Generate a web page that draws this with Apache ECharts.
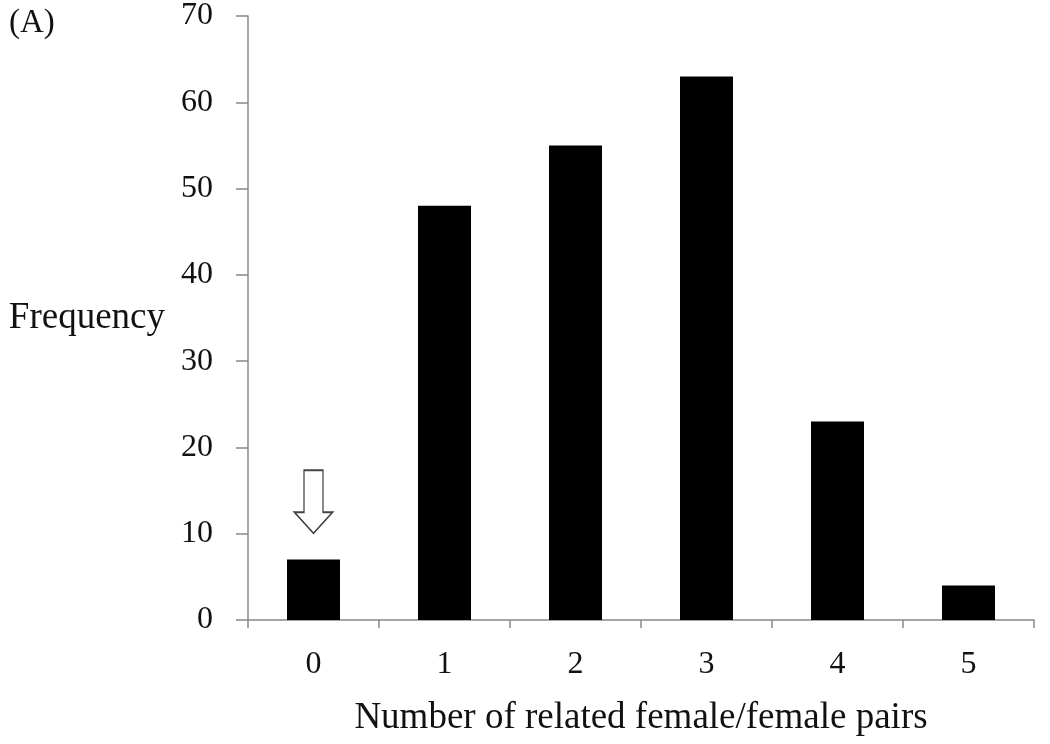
<!DOCTYPE html>
<html>
<head>
<meta charset="utf-8">
<script src="https://cdn.jsdelivr.net/npm/echarts@6/dist/echarts.min.js"></script>
<style>html,body{margin:0;padding:0;background:#fff}#c{width:1050px;height:744px}</style>
</head>
<body>
<div id="c"></div>
<script>
const categories = ['0', '1', '2', '3', '4', '5'];
const frequency = [7, 48, 55, 63, 23, 4];
const yTicks = { min: 0, max: 70, interval: 10 };
const arrowAt = { category: '0', value: 13.7 };

const font = 'Liberation Serif';
const chart = echarts.init(document.getElementById('c'), null, { renderer: 'canvas' });
chart.setOption({
  backgroundColor: '#fff',
  animation: false,
  title: {
    text: '(A)', left: 4, top: 2,
    textStyle: { fontFamily: font, fontSize: 33, fontWeight: 'normal', color: '#111' }
  },
  grid: { left: 248, right: 16, top: 11, bottom: 124, containLabel: false },
  xAxis: {
    type: 'category',
    data: categories,
    boundaryGap: true,
    name: 'Number of related female/female pairs',
    nameLocation: 'middle',
    nameGap: 80,
    nameTextStyle: { fontFamily: font, fontSize: 37, color: '#111' },
    axisLine: { lineStyle: { color: '#888', width: 1.5 } },
    axisTick: { show: true, alignWithLabel: false, length: 8, lineStyle: { color: '#888', width: 1.5 } },
    axisLabel: { fontFamily: font, fontSize: 32, color: '#111', margin: 29 },
    splitLine: { show: false }
  },
  yAxis: {
    type: 'value',
    min: yTicks.min, max: yTicks.max, interval: yTicks.interval,
    name: 'Frequency',
    nameLocation: 'middle',
    nameRotate: 0,
    nameGap: 83,
    nameTextStyle: { fontFamily: font, fontSize: 37, color: '#111', align: 'right' },
    axisLine: { show: true, lineStyle: { color: '#888', width: 1.5 } },
    axisTick: { show: true, inside: false, length: 12, lineStyle: { color: '#888', width: 1.5 } },
    axisLabel: { fontFamily: font, fontSize: 32, color: '#111', margin: 35 },
    splitLine: { show: false }
  },
  series: [{
    type: 'bar',
    data: frequency,
    barWidth: 53,
    itemStyle: { color: '#000' },
    markPoint: {
      symbol: 'path://M9.5,0 L28.5,0 L28.5,42 L38,42 L19,63 L0,42 L9.5,42 Z',
      symbolSize: [38, 63],
      itemStyle: { color: '#fff', borderColor: '#444', borderWidth: 1.6 },
      label: { show: false },
      data: [{ coord: [arrowAt.category, arrowAt.value] }]
    }
  }]
});
</script>
</body>
</html>
